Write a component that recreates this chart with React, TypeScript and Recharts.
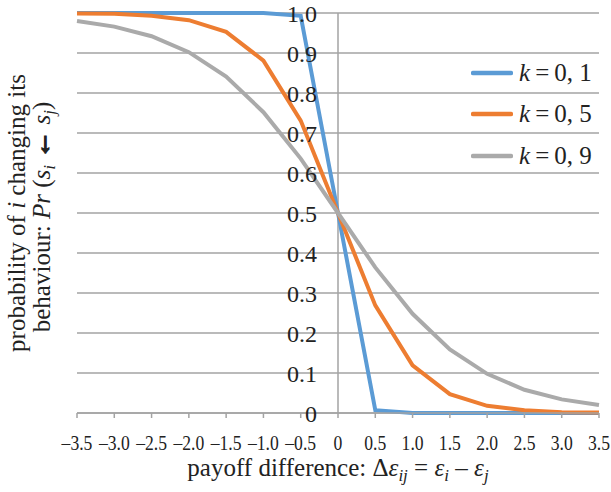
import React from 'react';
import { LineChart, Line, XAxis, YAxis, CartesianGrid, ReferenceLine, ReferenceDot } from 'recharts';

const xValues = [-3.5, -3.0, -2.5, -2.0, -1.5, -1.0, -0.5, 0, 0.5, 1.0, 1.5, 2.0, 2.5, 3.0, 3.5];
const k01 = [1, 1, 1, 1, 1, 1, 0.993, 0.5, 0.007, 0, 0, 0, 0, 0, 0];
const k05 = [0.999, 0.998, 0.993, 0.982, 0.953, 0.881, 0.731, 0.5, 0.269, 0.119, 0.047, 0.018, 0.007, 0.002, 0.001];
const k09 = [0.98, 0.966, 0.942, 0.902, 0.841, 0.752, 0.636, 0.5, 0.364, 0.248, 0.159, 0.098, 0.058, 0.034, 0.02];
const yTicks = [0, 0.1, 0.2, 0.3, 0.4, 0.5, 0.6, 0.7, 0.8, 0.9, 1.0];
const seriesNames = ['0, 1', '0, 5', '0, 9'];
const colors = ['#5B9BD5', '#ED7D31', '#AAAAAA'];

const data = xValues.map((x, i) => ({ x, a: k01[i], b: k05[i], c: k09[i] }));

const FONT = '"Liberation Serif", "Times New Roman", serif';
const GRID = '#a3a3a3';

const fmtX = (v: number) => {
  if (v === 0) return '0';
  const s = Math.abs(v).toFixed(1);
  return v < 0 ? '\u2013' + s : s;
};
const fmtY = (v: number) => (v === 0 ? '0' : v.toFixed(1));

const XTick = (props: any) => {
  const { x, y, payload } = props;
  return (
    <g transform={`translate(${x},${y + 30}) scale(0.8,1)`}>
      <text x={0} y={0} textAnchor="middle" fontFamily={FONT} fontSize={22} fill="#222">
        {fmtX(payload.value)}
      </text>
    </g>
  );
};

const makeYLabel = (v: number) => (p: any) => {
  const vb = p.viewBox || {};
  const cx = (vb.x || 0) + (vb.width || 0) / 2;
  const cy = (vb.y || 0) + (vb.height || 0) / 2;
  return (
    <text x={cx - 21} y={cy + 9} textAnchor="end" fontFamily={FONT} fontSize={24} fill="#222">
      {fmtY(v)}
    </text>
  );
};

const LegendBox = () => (
  <div style={{ position: 'absolute', left: 471, top: 52, fontFamily: FONT, fontSize: 25, color: '#222' }}>
    {seriesNames.map((n, i) => (
      <div key={n} style={{ display: 'flex', alignItems: 'center', height: 41.5 }}>
        <svg width={42} height={6} style={{ display: 'block' }}>
          <line x1={2} y1={3} x2={40} y2={3} stroke={colors[i]} strokeWidth={4.5} strokeLinecap="round" />
        </svg>
        <span style={{ marginLeft: 6, whiteSpace: 'nowrap' }}>
          <i>k</i>{'\u2009'}={'\u2009'}{n}
        </span>
      </div>
    ))}
  </div>
);

export default function App() {
  return (
    <div style={{ position: 'absolute', left: 0, top: 0, width: 611, height: 492, background: '#fff' }}>
      <LineChart width={611} height={492} data={data} margin={{ top: 13, right: 12, left: 77, bottom: 0 }}>
        <CartesianGrid vertical={false} stroke={GRID} strokeWidth={1.5} />
        <XAxis
          dataKey="x"
          type="number"
          domain={[-3.5, 3.5]}
          ticks={xValues}
          interval={0}
          height={79}
          tick={<XTick />}
          tickSize={5}
          stroke={GRID}
          strokeWidth={1.5}
          tickLine={{ stroke: GRID, strokeWidth: 1.5 }}
          axisLine={{ stroke: GRID, strokeWidth: 1.5 }}
        />
        <YAxis type="number" domain={[0, 1]} ticks={yTicks} hide />
        <ReferenceLine x={0} stroke={GRID} strokeWidth={1.5} />
        {yTicks.map((t) => (
          <ReferenceDot key={t} x={0} y={t} r={1} fill="none" stroke="none" label={makeYLabel(t)} />
        ))}
        <Line dataKey="a" stroke={colors[0]} strokeWidth={4} dot={false} isAnimationActive={false} />
        <Line dataKey="b" stroke={colors[1]} strokeWidth={4} dot={false} isAnimationActive={false} />
        <Line dataKey="c" stroke={colors[2]} strokeWidth={4} dot={false} isAnimationActive={false} />
      </LineChart>
      <LegendBox />
      <svg width={611} height={492} style={{ position: 'absolute', left: 0, top: 0, pointerEvents: 'none' }}>
        <g fontFamily={FONT} fontSize={25} fill="#222">
          <text transform="translate(25,213) rotate(-90)" textAnchor="middle">
            probability of <tspan fontStyle="italic">i</tspan> changing its
          </text>
          <text transform="translate(50,217) rotate(-90)" textAnchor="middle">
            behaviour: <tspan fontStyle="italic">Pr</tspan> (<tspan fontStyle="italic">s</tspan>
            <tspan fontStyle="italic" fontSize={17} dy={5}>i</tspan>
            <tspan dy={-5}> </tspan>
            <tspan fontWeight="bold" fontSize={28} stroke="#222" strokeWidth={1.6}>{'\u2190'}</tspan> <tspan fontStyle="italic">s</tspan>
            <tspan fontStyle="italic" fontSize={17} dy={5}>j</tspan>
            <tspan dy={-5}>)</tspan>
          </text>
          <text x={338} y={476} textAnchor="middle">
            payoff difference: {'\u0394'}<tspan fontStyle="italic">{'\u03b5'}</tspan>
            <tspan fontStyle="italic" fontSize={17} dy={5}>ij</tspan>
            <tspan dy={-5}> = </tspan>
            <tspan fontStyle="italic">{'\u03b5'}</tspan>
            <tspan fontStyle="italic" fontSize={17} dy={5}>i</tspan>
            <tspan dy={-5}> {'\u2013'} </tspan>
            <tspan fontStyle="italic">{'\u03b5'}</tspan>
            <tspan fontStyle="italic" fontSize={17} dy={5}>j</tspan>
          </text>
        </g>
      </svg>
    </div>
  );
}
